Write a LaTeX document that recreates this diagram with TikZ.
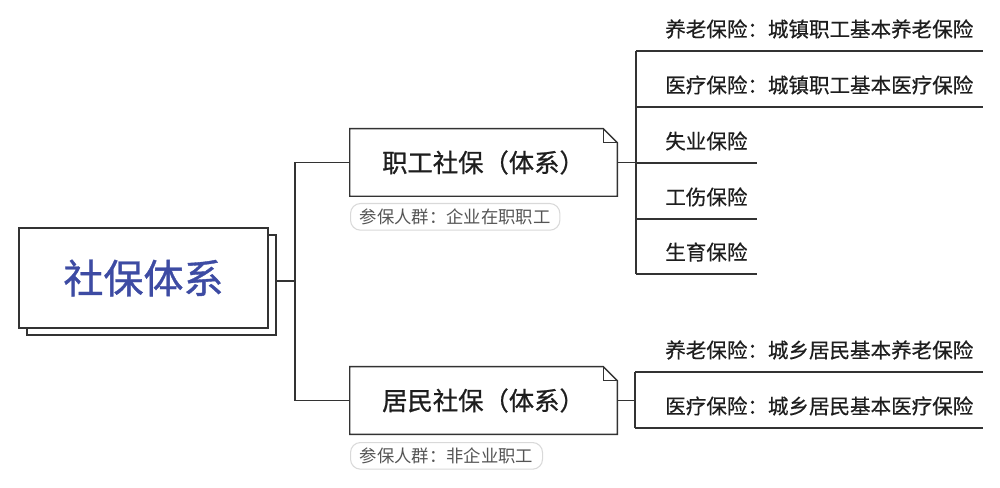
\documentclass[tikz,border=0pt]{standalone}
\usepackage{fontspec}
\setmainfont{Noto Sans CJK SC}
\newfontfamily\medfont{Noto Sans CJK SC}[FakeBold=0.9]
\newfontfamily\semifont{Noto Sans CJK SC}[FakeBold=0.5]
\definecolor{linec}{HTML}{333333}
\definecolor{textc}{HTML}{1E1E1E}
\definecolor{rootc}{HTML}{3D4BA3}
\definecolor{tagc}{HTML}{555555}
\definecolor{tagb}{HTML}{D9D9D9}
\begin{document}
\begin{tikzpicture}[x=0.75pt,y=-0.75pt,
  conn/.style={draw=linec, line width=1.1pt},
  rootbox/.style={draw=linec, line width=1.1pt, fill=white, minimum width=186.75pt, minimum height=75pt, inner sep=0pt},
  topicbox/.style={minimum width=200.25pt, minimum height=50.25pt, inner sep=0pt, text=textc, font=\medfont\fontsize{19}{23}\selectfont},
  tagbox/.style={draw=tagb, line width=0.8pt, rounded corners=7.5pt, fill=white, text=tagc, minimum height=20pt, inner xsep=7pt, inner ysep=0pt, anchor=north west, font=\fontsize{13}{16}\selectfont},
  leaf/.style={anchor=west, inner sep=0pt, text=textc, font=\semifont\fontsize{15.4}{19}\selectfont}
]
\useasboundingbox (0,0) rectangle (1000,488);

% root
\node[rootbox] (rootback) at (151.5,285) {};
\node[rootbox, text=rootc, font=\medfont\fontsize{30}{36}\selectfont] (root) at (143.5,278) {社保体系};

% topics
\node[topicbox] (job) at (483.5,162.5) {职工社保（体系）};
\node[topicbox] (res) at (483.5,400.5) {居民社保（体系）};
\foreach \n in {job,res}{
  \draw[conn] (\n.north west) -- ([xshift=-10.5pt]\n.north east) -- ([yshift=-10.5pt]\n.north east) -- (\n.south east) -- (\n.south west) -- cycle;
  \draw[conn] ([xshift=-10.5pt]\n.north east) -- ([xshift=-10.5pt,yshift=-10.5pt]\n.north east) -- ([yshift=-10.5pt]\n.north east);
}

% tags
\node[tagbox] (jobtag) at (350,203) {参保人群：企业在职职工};
\node[tagbox] (restag) at (350,442) {参保人群：非企业职工};

% root connectors
\coordinate (rs) at (276,281);
\coordinate (sp) at (295,281);
\draw[conn] (rs) -- (sp);
\draw[conn] (sp |- job.west) -- (sp |- res.west);
\draw[conn] (sp |- job.west) -- (job.west);
\draw[conn] (sp |- res.west) -- (res.west);

% job leaves
\node[leaf] (j1) at (665,29) {养老保险：城镇职工基本养老保险};
\node[leaf] (j2) at (665,85) {医疗保险：城镇职工基本医疗保险};
\node[leaf] (j3) at (665,141) {失业保险};
\node[leaf] (j4) at (665,197) {工伤保险};
\node[leaf] (j5) at (665,252) {生育保险};
\coordinate (ju1) at (636,51);
\coordinate (ju2) at (636,107);
\coordinate (ju3) at (636,163);
\coordinate (ju4) at (636,219);
\coordinate (ju5) at (636,274);
\draw[conn] (job.east) -- (job.east -| ju1);
\draw[conn] (ju1) -- (ju5);
\draw[conn] (ju1) -- ++(347,0);
\draw[conn] (ju2) -- ++(347,0);
\draw[conn] (ju3) -- ++(121,0);
\draw[conn] (ju4) -- ++(121,0);
\draw[conn] (ju5) -- ++(121,0);

% resident leaves
\node[leaf] (r1) at (665,350) {养老保险：城乡居民基本养老保险};
\node[leaf] (r2) at (665,406) {医疗保险：城乡居民基本医疗保险};
\coordinate (ru1) at (635,372);
\coordinate (ru2) at (635,428);
\draw[conn] (res.east) -- (res.east -| ru1);
\draw[conn] (ru1) -- (ru2);
\draw[conn] (ru1) -- ++(348,0);
\draw[conn] (ru2) -- ++(348,0);
\end{tikzpicture}
\end{document}
